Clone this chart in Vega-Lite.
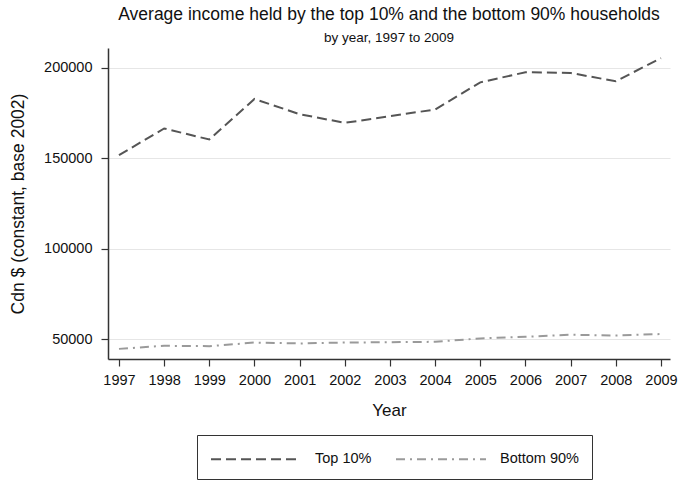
{
  "$schema": "https://vega.github.io/schema/vega-lite/v6.json",
  "width": 562,
  "height": 311,
  "autosize": {"type": "none"},
  "padding": {"left": 108, "top": 48, "right": 8, "bottom": 122},
  "background": "white",
  "title": {
    "text": "Average income held by the top 10% and the bottom 90% households",
    "subtitle": "by year, 1997 to 2009",
    "anchor": "middle",
    "font": "Liberation Sans",
    "fontSize": 17.5,
    "fontWeight": "normal",
    "color": "#111",
    "subtitleFont": "Liberation Sans",
    "subtitleFontSize": 13.5,
    "subtitleColor": "#111",
    "subtitlePadding": 7,
    "offset": 4
  },
  "config": {
    "view": {"stroke": null},
    "font": "Liberation Sans"
  },
  "data": {
    "values": [
      {"year": 1997, "group": "Top 10%", "income": 151700},
      {"year": 1998, "group": "Top 10%", "income": 166500},
      {"year": 1999, "group": "Top 10%", "income": 160400},
      {"year": 2000, "group": "Top 10%", "income": 182800},
      {"year": 2001, "group": "Top 10%", "income": 174400},
      {"year": 2002, "group": "Top 10%", "income": 169600},
      {"year": 2003, "group": "Top 10%", "income": 173300},
      {"year": 2004, "group": "Top 10%", "income": 177000},
      {"year": 2005, "group": "Top 10%", "income": 192000},
      {"year": 2006, "group": "Top 10%", "income": 197600},
      {"year": 2007, "group": "Top 10%", "income": 197200},
      {"year": 2008, "group": "Top 10%", "income": 192600},
      {"year": 2009, "group": "Top 10%", "income": 205400},
      {"year": 1997, "group": "Bottom 90%", "income": 44600},
      {"year": 1998, "group": "Bottom 90%", "income": 46300},
      {"year": 1999, "group": "Bottom 90%", "income": 46100},
      {"year": 2000, "group": "Bottom 90%", "income": 48100},
      {"year": 2001, "group": "Bottom 90%", "income": 47600},
      {"year": 2002, "group": "Bottom 90%", "income": 48100},
      {"year": 2003, "group": "Bottom 90%", "income": 48300},
      {"year": 2004, "group": "Bottom 90%", "income": 48500},
      {"year": 2005, "group": "Bottom 90%", "income": 50400},
      {"year": 2006, "group": "Bottom 90%", "income": 51300},
      {"year": 2007, "group": "Bottom 90%", "income": 52400},
      {"year": 2008, "group": "Bottom 90%", "income": 52000},
      {"year": 2009, "group": "Bottom 90%", "income": 52800}
    ]
  },
  "mark": {"type": "line", "strokeWidth": 2},
  "encoding": {
    "x": {
      "field": "year",
      "type": "quantitative",
      "title": "Year",
      "scale": {"domain": [1996.757, 2009.2], "nice": false, "zero": false},
      "axis": {
        "values": [1997, 1998, 1999, 2000, 2001, 2002, 2003, 2004, 2005, 2006, 2007, 2008, 2009],
        "format": "d",
        "grid": false,
        "domainColor": "#333",
        "domainWidth": 1.5,
        "tickColor": "#333",
        "tickSize": 7,
        "tickWidth": 1.2,
        "labelFontSize": 14.5,
        "labelColor": "#111",
        "labelPadding": 7,
        "titleFontSize": 17,
        "titleFontWeight": "normal",
        "titleColor": "#111",
        "titlePadding": 16
      }
    },
    "y": {
      "field": "income",
      "type": "quantitative",
      "title": "Cdn $ (constant, base 2002)",
      "scale": {"domain": [39000, 211000], "nice": false, "zero": false},
      "axis": {
        "values": [50000, 100000, 150000, 200000],
        "format": "d",
        "grid": true,
        "gridColor": "#e6e6e6",
        "gridWidth": 1.2,
        "domainColor": "#333",
        "domainWidth": 1.5,
        "tickColor": "#333",
        "tickSize": 7,
        "tickWidth": 1.2,
        "labelFontSize": 14.5,
        "labelColor": "#111",
        "labelPadding": 9,
        "titleFontSize": 17.5,
        "titleFontWeight": "normal",
        "titleColor": "#111",
        "titlePadding": 16
      }
    },
    "color": {
      "field": "group",
      "type": "nominal",
      "scale": {"domain": ["Top 10%", "Bottom 90%"], "range": ["#555555", "#9a9a9a"]},
      "legend": {
        "title": null,
        "orient": "none",
        "legendX": 89,
        "legendY": 387,
        "direction": "horizontal",
        "columns": 2,
        "symbolType": "M-4.5,0H4.5",
        "symbolSize": 400,
        "symbolOffset": 35,
        "symbolStrokeWidth": 2,
        "labelFontSize": 14.5,
        "labelColor": "#111",
        "labelOffset": 48,
        "columnPadding": 20,
        "padding": 13,
        "strokeColor": "#333",
        "fillColor": "white"
      }
    },
    "strokeDash": {
      "field": "group",
      "type": "nominal",
      "scale": {"domain": ["Top 10%", "Bottom 90%"], "range": [[10, 5], [9, 5, 2, 5]]},
      "legend": {
        "title": null,
        "orient": "none",
        "legendX": 89,
        "legendY": 387,
        "direction": "horizontal",
        "columns": 2,
        "symbolType": "M-4.5,0H4.5",
        "symbolSize": 400,
        "symbolOffset": 35,
        "symbolStrokeWidth": 2,
        "labelFontSize": 14.5,
        "labelColor": "#111",
        "labelOffset": 48,
        "columnPadding": 20,
        "padding": 13,
        "strokeColor": "#333",
        "fillColor": "white"
      }
    }
  }
}
